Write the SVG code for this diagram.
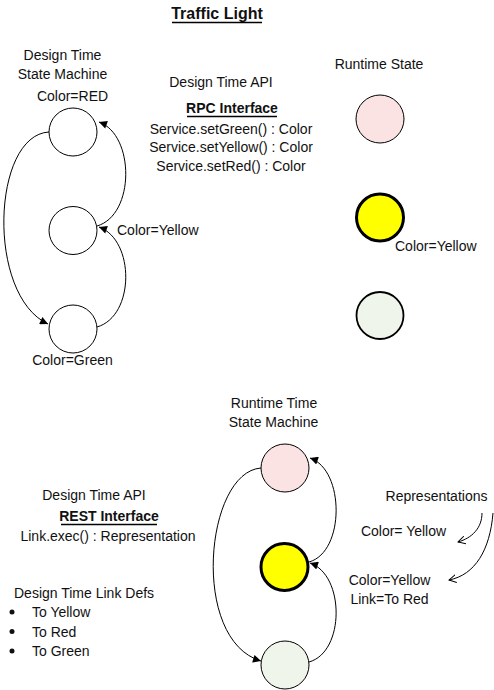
<svg xmlns="http://www.w3.org/2000/svg" width="494" height="690" viewBox="0 0 494 690">
<style>
text{font-family:"Liberation Sans",Arial,sans-serif;font-size:14px;fill:#111}
.c{text-anchor:middle}
.b{font-weight:bold}
.st{fill:#fff;stroke:#000;stroke-width:1}
.pink{fill:#fce3e3;stroke:#000;stroke-width:1}
.yel{fill:#ffff00;stroke:#000;stroke-width:3}
.grn{fill:#eff5ea;stroke:#000;stroke-width:1.8}
.grn1{fill:#eff5ea;stroke:#000;stroke-width:1}
.conn{fill:none;stroke:#000;stroke-width:1}
.ul{stroke:#000;stroke-width:1.3}
</style>
<defs>
<marker id="arr" viewBox="0 0 10 10" refX="10" refY="5" markerWidth="12" markerHeight="8" markerUnits="userSpaceOnUse" orient="auto">
<path d="M0,0 L10,5 L0,10 z" fill="#000"/>
</marker>
<marker id="open" viewBox="0 0 10 10" refX="9" refY="5" markerWidth="8" markerHeight="9" markerUnits="userSpaceOnUse" orient="auto">
<path d="M0,0 L9,5 L0,10" fill="none" stroke="#000" stroke-width="1.2"/>
</marker>
</defs>

<g id="title">
<text class="c b" x="217" y="19" style="font-size:16px">Traffic Light</text>
<line class="ul" x1="172" y1="22.5" x2="262" y2="22.5"/>
</g>

<g id="dt-sm-label">
<text class="c" x="62.5" y="60">Design Time</text>
<text class="c" x="62.5" y="79">State Machine</text>
</g>

<g id="dt-red">
<circle class="st" cx="73" cy="132" r="24"/>
<text class="c" x="72.5" y="101">Color=RED</text>
</g>
<g id="dt-yellow">
<circle class="st" cx="73" cy="230.5" r="24"/>
<text x="117" y="235">Color=Yellow</text>
</g>
<g id="dt-green">
<circle class="st" cx="73" cy="329" r="24"/>
<text class="c" x="72.5" y="365">Color=Green</text>
</g>

<g id="rpc-api">
<text class="c" x="221" y="87">Design Time API</text>
<text class="c b" x="232" y="113">RPC Interface</text>
<line class="ul" x1="187" y1="116.5" x2="277" y2="116.5"/>
<text class="c" x="231" y="134">Service.setGreen() : Color</text>
<text class="c" x="231" y="152">Service.setYellow() : Color</text>
<text class="c" x="231" y="171">Service.setRed() : Color</text>
</g>

<g id="runtime-state">
<text class="c" x="379" y="69">Runtime State</text>
</g>
<g id="rs-red"><circle class="pink" cx="380" cy="119" r="24"/></g>
<g id="rs-yellow">
<circle class="yel" cx="380" cy="217.5" r="23.5"/>
<text x="395" y="251">Color=Yellow</text>
</g>
<g id="rs-green"><circle class="grn" cx="380" cy="315.5" r="23.5"/></g>

<g id="rt-sm-label">
<text class="c" x="274" y="408">Runtime Time</text>
<text class="c" x="273.5" y="427">State Machine</text>
</g>
<g id="rt-red"><circle class="pink" cx="285" cy="468" r="24"/></g>
<g id="rt-yellow"><circle class="yel" cx="284.5" cy="567" r="23.5"/></g>
<g id="rt-green"><circle class="grn1" cx="285" cy="665" r="24"/></g>

<g id="rest-api">
<text class="c" x="94" y="500">Design Time API</text>
<text class="c b" x="109" y="521">REST Interface</text>
<line class="ul" x1="61" y1="524.5" x2="157" y2="524.5"/>
<text class="c" x="108" y="541">Link.exec() : Representation</text>
</g>

<g id="link-defs">
<text x="14" y="598">Design Time Link Defs</text>
<circle cx="12" cy="612" r="2.5" fill="#111"/>
<circle cx="12" cy="631.5" r="2.5" fill="#111"/>
<circle cx="12" cy="651" r="2.5" fill="#111"/>
<text x="32" y="617">To Yellow</text>
<text x="32" y="636.5">To Red</text>
<text x="32" y="656">To Green</text>
</g>

<g id="representations">
<text class="c" x="436.5" y="501">Representations</text>
<text class="c" x="403.5" y="536">Color= Yellow</text>
<text class="c" x="389.5" y="585">Color=Yellow</text>
<text class="c" x="389.5" y="604">Link=To Red</text>
</g>

<g id="connectors">
<path class="conn" d="M49,132 C -8,135 -14,295 48,324" marker-end="url(#arr)"/>
<path class="conn" d="M97,226 C 135,215 135,135 99,122" marker-end="url(#arr)"/>
<path class="conn" d="M97,327 C 135,316 135,240 99,227" marker-end="url(#arr)"/>
<path class="conn" d="M261,468 C 205,472 190,640 261,661" marker-end="url(#arr)"/>
<path class="conn" d="M309,562 C 345,552 345,470 310,458" marker-end="url(#arr)"/>
<path class="conn" d="M309,662 C 345,652 345,575 310,563" marker-end="url(#arr)"/>
<path class="conn" d="M482,513 C 482,528 472,538 458,542" marker-end="url(#open)"/>
<path class="conn" d="M493,513 C 490,550 475,575 449,580" marker-end="url(#open)"/>
</g>
</svg>
